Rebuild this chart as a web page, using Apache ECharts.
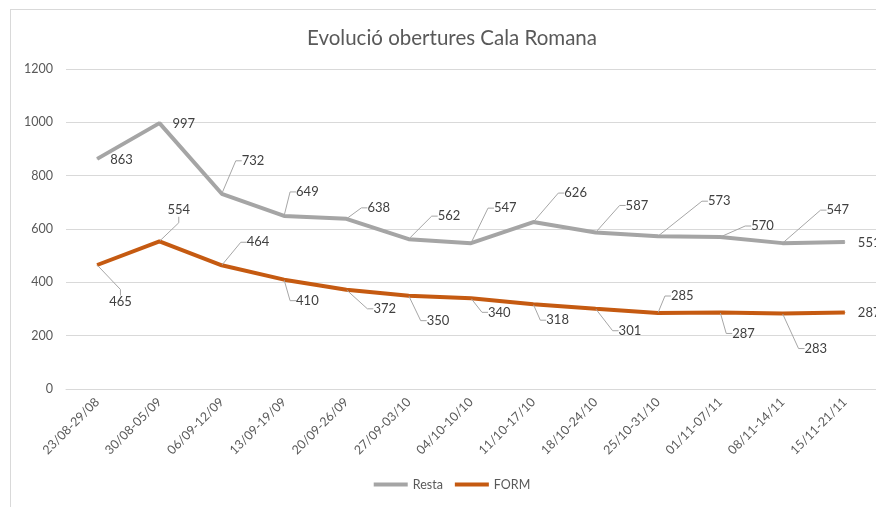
<!DOCTYPE html>
<html>
<head>
<meta charset="utf-8">
<script src="https://cdn.jsdelivr.net/npm/echarts@6/dist/echarts.min.js"></script>
<style>
    html, body { margin: 0; padding: 0; background: #fff; width: 876px; height: 507px; overflow: hidden; }
    #frame { position: absolute; left: 10px; top: 9px; width: 2000px; height: 2000px; border: 1px solid #d9d9d9; }
    #chart { position: absolute; left: 0; top: 0; width: 904px; height: 507px; }
</style>
</head>
<body>
<div id="frame"></div>
<div id="chart"></div>
<script>
// setmanes
const weeks = ['23/08-29/08', '30/08-05/09', '06/09-12/09', '13/09-19/09', '20/09-26/09', '27/09-03/10',
    '04/10-10/10', '11/10-17/10', '18/10-24/10', '25/10-31/10', '01/11-07/11', '08/11-14/11', '15/11-21/11']
const resta = [863, 997, 732, 649, 638, 562, 547, 626, 587, 573, 570, 547, 551]
const form = [465, 554, 464, 410, 372, 350, 340, 318, 301, 285, 287, 283, 287]
const yTicks = [0, 200, 400, 600, 800, 1000, 1200]

// posició de les etiquetes respecte del punt (esquerra, centre vertical), estil Excel
const restaLabelPos = [[13, 1], [13, 1], [20, -33], [12, -24], [21, -11], [29, -23], [23, -35],
    [31, -29], [30, -27], [50, -35], [31, -11], [44, -33], [13, 1]]
const formLabelPos = [[12, 37], [8, -31], [25, -23], [12, 21], [27, 19], [18, 25], [17, 14],
    [13, 16], [23, 22], [13, -17], [12, 21], [22, 35], [13, 0]]
const restaNoLeader = [0, 1, 12]
const formNoLeader = [12]

const labelPos = [restaLabelPos, formLabelPos]
const padLeft = 5

const toData = (values, noLeader) => values.map((v, i) => ({
    value: v,
    labelLine: { show: noLeader.indexOf(i) < 0 }
}))

const seriesBase = {
    type: 'line',
    symbol: 'circle',
    symbolSize: 1,
    label: {
        show: true,
        position: 'right',
        distance: 0,
        padding: [1, 3, 1, padLeft],
        color: '#404040',
        fontFamily: 'Lato',
        fontSize: 13
    },
    labelLine: {
        show: true,
        length2: 6,
        lineStyle: { color: '#a6a6a6', width: 1 }
    },
    labelLayout: (params) => {
        const p = labelPos[params.seriesIndex][params.dataIndex]
        const cx = params.rect.x + params.rect.width / 2
        const cy = params.rect.y + params.rect.height / 2
        return {
            x: cx + p[0] - padLeft,
            y: cy + p[1],
            align: 'left',
            verticalAlign: 'middle'
        }
    },
    emphasis: { disabled: true }
}

let myChart = echarts.init(document.getElementById('chart'))
myChart.setOption({
    animation: false,
    title: {
        text: 'Evolució obertures Cala Romana',
        left: 'center',
        top: 23,
        textStyle: {
            color: '#595959',
            fontFamily: 'Lato',
            fontWeight: 'normal',
            fontSize: 20.5
        }
    },
    legend: {
        bottom: 11,
        left: 'center',
        itemWidth: 34,
        itemHeight: 4,
        itemGap: 12,
        textStyle: { color: '#595959', fontFamily: 'Lato', fontSize: 12.5 },
        data: [{ name: 'Resta', icon: 'rect' }, { name: 'FORM', icon: 'rect' }]
    },
    grid: {
        left: 66,
        right: 28,
        top: 69,
        bottom: 118
    },
    xAxis: {
        type: 'category',
        data: weeks,
        boundaryGap: true,
        axisLine: { lineStyle: { color: '#d9d9d9', width: 1 } },
        axisTick: { show: false },
        axisLabel: {
            interval: 0,
            rotate: 45,
            margin: 11,
            color: '#595959',
            fontFamily: 'Lato',
            fontSize: 12.5
        }
    },
    yAxis: {
        type: 'value',
        min: yTicks[0],
        max: yTicks[yTicks.length - 1],
        interval: yTicks[1] - yTicks[0],
        axisLine: { show: false },
        axisTick: { show: false },
        splitLine: { lineStyle: { color: '#d9d9d9', width: 1 } },
        axisLabel: {
            margin: 13,
            color: '#595959',
            fontFamily: 'Lato',
            fontSize: 12.5,
            formatter: (v) => String(v)
        }
    },
    series: [
        Object.assign({}, seriesBase, {
            name: 'Resta',
            data: toData(resta, restaNoLeader),
            lineStyle: { color: '#a5a5a5', width: 4 },
            itemStyle: { color: '#a5a5a5' }
        }),
        Object.assign({}, seriesBase, {
            name: 'FORM',
            data: toData(form, formNoLeader),
            lineStyle: { color: '#c55a11', width: 4 },
            itemStyle: { color: '#c55a11' }
        })
    ]
})
</script>
</body>
</html>
